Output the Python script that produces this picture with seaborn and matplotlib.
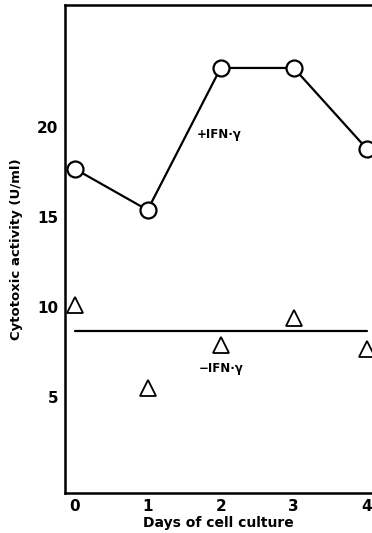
import matplotlib
matplotlib.use("Agg")
import matplotlib.pyplot as plt
import seaborn as sns
import pandas as pd

days = [0, 1, 2, 3, 4]
with_ifn = [17.7, 15.4, 23.3, 23.3, 18.8]
without_ifn = [10.1, 5.5, 7.9, 9.4, 7.7]
without_ifn_level = 8.7
y_ticks = [5, 10, 15, 20]

sns.set_theme(style="white")
plt.rcParams["font.family"] = ["DejaVu Sans"]
plt.rcParams.update({
    "text.color": "black",
    "axes.labelcolor": "black",
    "xtick.color": "black",
    "ytick.color": "black",
})

fig = plt.figure(figsize=(3.72, 5.33), dpi=100)
ax = fig.add_axes([65 / 372, 40 / 533, 1 - 65 / 372, 488 / 533])

df_plus = pd.DataFrame({"day": days, "activity": with_ifn})
df_minus = pd.DataFrame({"day": days, "activity": without_ifn})
df_level = pd.DataFrame({"day": [days[0], days[-1]],
                         "activity": [without_ifn_level, without_ifn_level]})

sns.lineplot(data=df_plus, x="day", y="activity", ax=ax, color="black",
             linewidth=1.6, marker="o", markersize=11.5,
             markerfacecolor="white", markeredgecolor="black",
             markeredgewidth=1.6, zorder=3)
sns.lineplot(data=df_level, x="day", y="activity", ax=ax, color="black",
             linewidth=1.6, zorder=2)
ax.plot(df_minus["day"], df_minus["activity"], linestyle="none", marker="^",
        markersize=11.5, markerfacecolor="white", markeredgecolor="black",
        markeredgewidth=1.3, zorder=3)

ax.set_xlim(-0.13, 4.07)
ax.set_ylim(-0.33, 26.8)
ax.set_xticks(days)
ax.set_yticks(y_ticks)
ax.tick_params(axis="x", direction="in", length=4, width=1.2, pad=4,
               labelsize=11)
ax.tick_params(axis="y", direction="out", length=3, width=1.2, pad=2,
               labelsize=11)
for lab in ax.get_xticklabels() + ax.get_yticklabels():
    lab.set_fontweight("bold")

for side in ["left", "bottom", "top"]:
    ax.spines[side].set_visible(True)
    ax.spines[side].set_color("black")
    ax.spines[side].set_linewidth(1.8)
ax.spines["right"].set_visible(False)

ax.set_xlabel("Days of cell culture", fontsize=10, fontweight="bold",
              labelpad=2)
ax.set_ylabel("Cytotoxic activity (U/ml)", fontsize=9.5, fontweight="bold",
              labelpad=10)

ax.text(1.98, 19.6, "+IFN·γ", fontsize=8.5, fontweight="bold",
        ha="center", va="center")
ax.text(2.0, 6.6, "−IFN·γ", fontsize=8.5, fontweight="bold",
        ha="center", va="center")

fig.savefig("out.png", dpi=100)
